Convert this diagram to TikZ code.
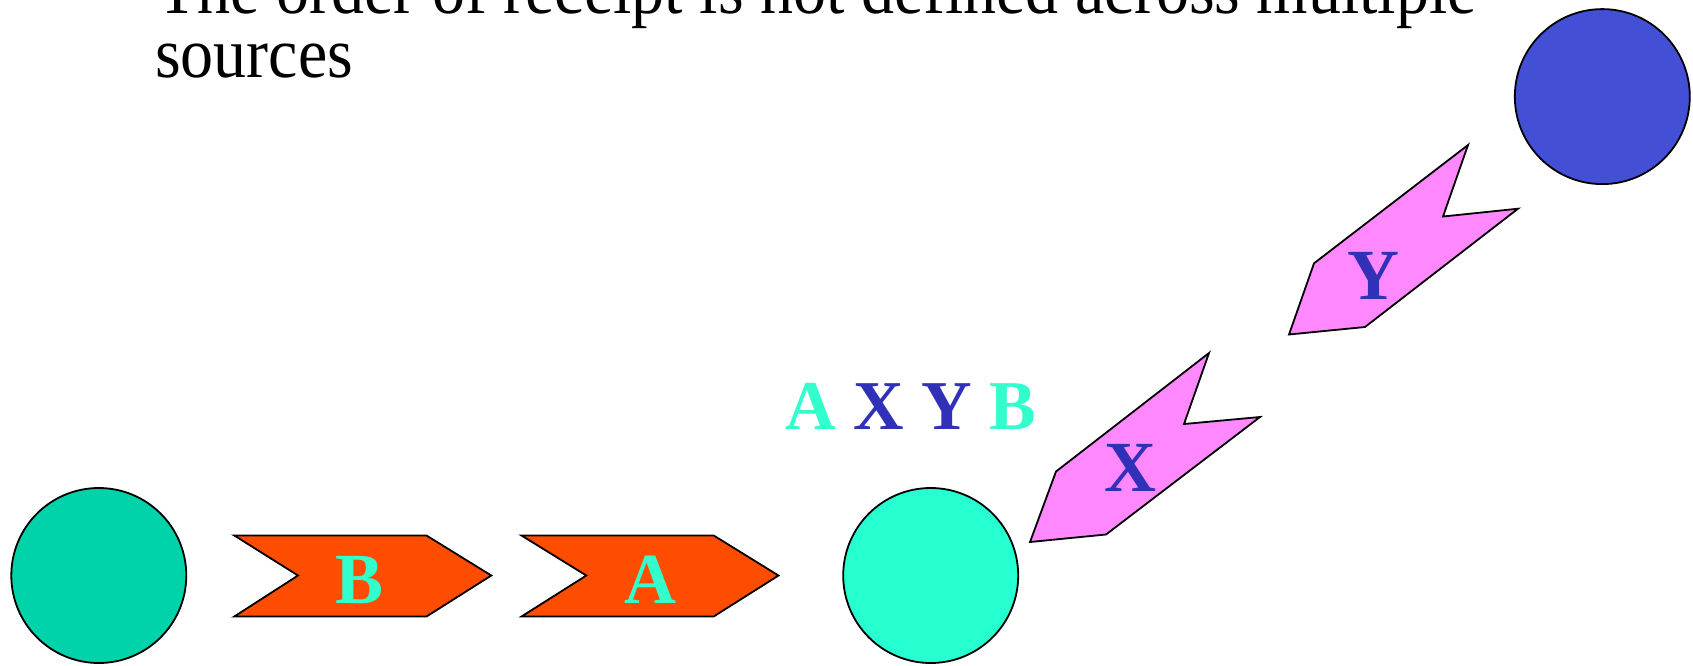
\documentclass[tikz,border=0pt]{standalone}
\usepackage{fontspec}
\setmainfont{Liberation Serif}
\definecolor{srcgreen}{RGB}{0,210,170}
\definecolor{rcvcyan}{RGB}{38,255,208}
\definecolor{srcblue}{RGB}{67,80,213}
\definecolor{msgorange}{RGB}{255,77,0}
\definecolor{msgpink}{RGB}{255,136,255}
\definecolor{lettercyan}{RGB}{51,255,204}
\definecolor{letterblue}{RGB}{48,48,184}
\begin{document}
\begin{tikzpicture}[x=1pt,y=-1pt,
  proc/.style={circle,draw=black,line width=1.8pt,minimum size=175pt,inner sep=0pt},
  msg/.style={draw=black,line width=1.8pt,line join=miter},
  letter/.style={font=\fontsize{72}{72}\selectfont\bfseries,inner sep=0pt},
  title/.style={font=\fontsize{66}{62}\selectfont,inner sep=0pt,anchor=base west}]
\useasboundingbox[fill=white] (0,0) rectangle (1693,665);
% title
\node[title] (t1) at (157,13) {\scalebox{1}[1.08]{The order of receipt is not defined across multiple}};
\node[title] (t2) at (155,77.7) {\scalebox{1}[1.08]{sources}};
% processes
\node[proc,fill=srcgreen] (p1) at (98.8,575.5) {};
\node[proc,fill=rcvcyan] (p2) at (930.7,575.5) {};
\node[proc,fill=srcblue] (p3) at (1602.3,96.6) {};
% orange chevrons
\draw[msg,fill=msgorange] (234.3,535.5) -- (426.5,535.5) -- (491.3,575.5) -- (426.5,616.5) -- (234.3,616.5) -- (298,575.5) -- cycle;
\draw[msg,fill=msgorange] (521.5,535.5) -- (713.7,535.5) -- (778.5,575.5) -- (713.7,616.5) -- (521.5,616.5) -- (586.3,575.5) -- cycle;
\node[letter,text=lettercyan] (mB) at (360,580) {B};
\node[letter,text=lettercyan] (mA) at (650,580) {A};
% pink chevrons
\draw[msg,fill=msgpink] (1209,353) -- (1184,424) -- (1260,417) -- (1106,534.5) -- (1030,542) -- (1056,471.5) -- cycle;
\draw[msg,fill=msgpink] (1468,145) -- (1443,216.5) -- (1518,208.7) -- (1365,327) -- (1289,334.5) -- (1314,263.3) -- cycle;
\node[letter,text=letterblue] (mX) at (1130,468) {X};
\node[letter,text=letterblue] (mY) at (1373,275.5) {Y};
% received order
\node[inner sep=0pt,anchor=base,font=\fontsize{70}{70}\selectfont\bfseries] (order) at (910.7,429.7)
  {\textcolor{lettercyan}{A} \textcolor{letterblue}{X} \textcolor{letterblue}{Y} \textcolor{lettercyan}{B}};
\end{tikzpicture}
\end{document}
